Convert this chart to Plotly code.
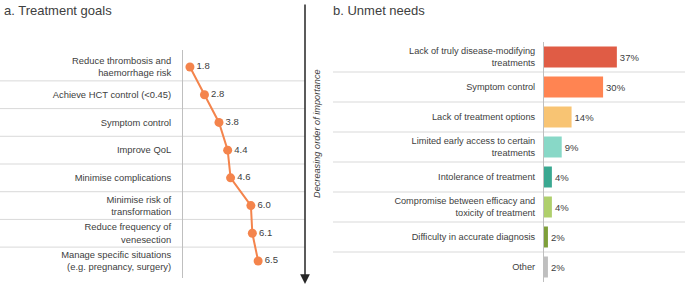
import plotly.graph_objects as go

W, H = 685, 286

goals = [
    "Reduce thrombosis and<br>haemorrhage risk",
    "Achieve HCT control (&lt;0.45)",
    "Symptom control",
    "Improve QoL",
    "Minimise complications",
    "Minimise risk of<br>transformation",
    "Reduce frequency of<br>venesection",
    "Manage specific situations<br>(e.g. pregnancy, surgery)",
]
goal_rank = [1.8, 2.8, 3.8, 4.4, 4.6, 6.0, 6.1, 6.5]

needs = [
    "Lack of truly disease-modifying<br>treatments",
    "Symptom control",
    "Lack of treatment options",
    "Limited early access to certain<br>treatments",
    "Intolerance of treatment",
    "Compromise between efficacy and<br>toxicity of treatment",
    "Difficulty in accurate diagnosis",
    "Other",
]
need_pct = [37, 30, 14, 9, 4, 4, 2, 2]
need_colors = ["#E05C45", "#FF8452", "#F8C473", "#88D8C7", "#3AA891",
               "#AFCF6C", "#7E9F3A", "#BFBFBF"]

TXT = "#404040"
FONT = "Liberation Sans, Arial, sans-serif"

fig = go.Figure()

fig.add_trace(go.Scatter(
    x=goal_rank, y=goals, mode="lines+markers+text",
    text=[f"{v:.1f}" for v in goal_rank], textposition="middle right",
    textfont=dict(size=9.5, color=TXT, family=FONT),
    line=dict(color="#F4844C", width=2),
    marker=dict(color="#F4844C", size=9),
    xaxis="x", yaxis="y", cliponaxis=False, showlegend=False,
))

fig.add_trace(go.Bar(
    x=need_pct, y=needs, orientation="h",
    marker=dict(color=need_colors, line=dict(width=0)),
    text=[f"{v}%" for v in need_pct], textposition="outside",
    textfont=dict(size=9.5, color=TXT, family=FONT),
    width=0.7, xaxis="x2", yaxis="y2", cliponaxis=False, showlegend=False,
))

def px(x):
    return x / W

def py(y):
    return 1 - y / H

shapes = []
for i in range(len(goals) - 1):
    shapes.append(dict(type="line", xref="paper", yref="y", x0=0, x1=px(305),
                       y0=i + 0.5, y1=i + 0.5, line=dict(color="#D9D9D9", width=1),
                       layer="below"))
for i in range(len(needs) - 1):
    shapes.append(dict(type="line", xref="paper", yref="y2", x0=px(333), x1=1,
                       y0=i + 0.5, y1=i + 0.5, line=dict(color="#D9D9D9", width=1),
                       layer="below"))

annotations = [
    dict(text="a. Treatment goals", x=px(2), y=py(11), xref="paper", yref="paper",
         xanchor="left", yanchor="middle", showarrow=False,
         font=dict(size=13, color=TXT, family=FONT)),
    dict(text="b. Unmet needs", x=px(331), y=py(11), xref="paper", yref="paper",
         xanchor="left", yanchor="middle", showarrow=False,
         font=dict(size=13, color=TXT, family=FONT)),
    dict(text="", x=px(305), y=py(284), ax=0, ay=-281,
         xref="paper", yref="paper", axref="pixel", ayref="pixel",
         showarrow=True, arrowhead=2, arrowsize=1.3, arrowwidth=1.5,
         arrowcolor="#262626"),
    dict(text="<i>Decreasing order of importance</i>", x=px(317), y=py(134),
         xref="paper", yref="paper", textangle=-90, showarrow=False,
         xanchor="center", yanchor="middle",
         font=dict(size=9.2, color=TXT, family=FONT)),
]

fig.update_layout(
    width=W, height=H,
    margin=dict(l=0, r=0, t=0, b=0),
    paper_bgcolor="white", plot_bgcolor="white",
    font=dict(family=FONT, size=9, color=TXT),
    shapes=shapes, annotations=annotations,
    xaxis=dict(domain=[px(183), px(305)], range=[1.32, 9.73], visible=False,
               anchor="y"),
    yaxis=dict(domain=[py(278), py(50)], autorange="reversed", anchor="x",
               showline=True, linecolor="#BFBFBF", linewidth=1, showgrid=False,
               ticks="outside", ticklen=9, tickcolor="rgba(0,0,0,0)",
               tickfont=dict(size=9.4, color=TXT, family=FONT), automargin=False,
               zeroline=False),
    xaxis2=dict(domain=[px(544), 1], range=[0, 71.6], visible=False, anchor="y2"),
    yaxis2=dict(domain=[py(282), py(42)], autorange="reversed", anchor="x2",
                showline=True, linecolor="#BFBFBF", linewidth=1, showgrid=False,
                ticks="outside", ticklen=6, tickcolor="rgba(0,0,0,0)",
                tickfont=dict(size=9.2, color=TXT, family=FONT), automargin=False,
                zeroline=False),
)

fig.write_html("out.html")
